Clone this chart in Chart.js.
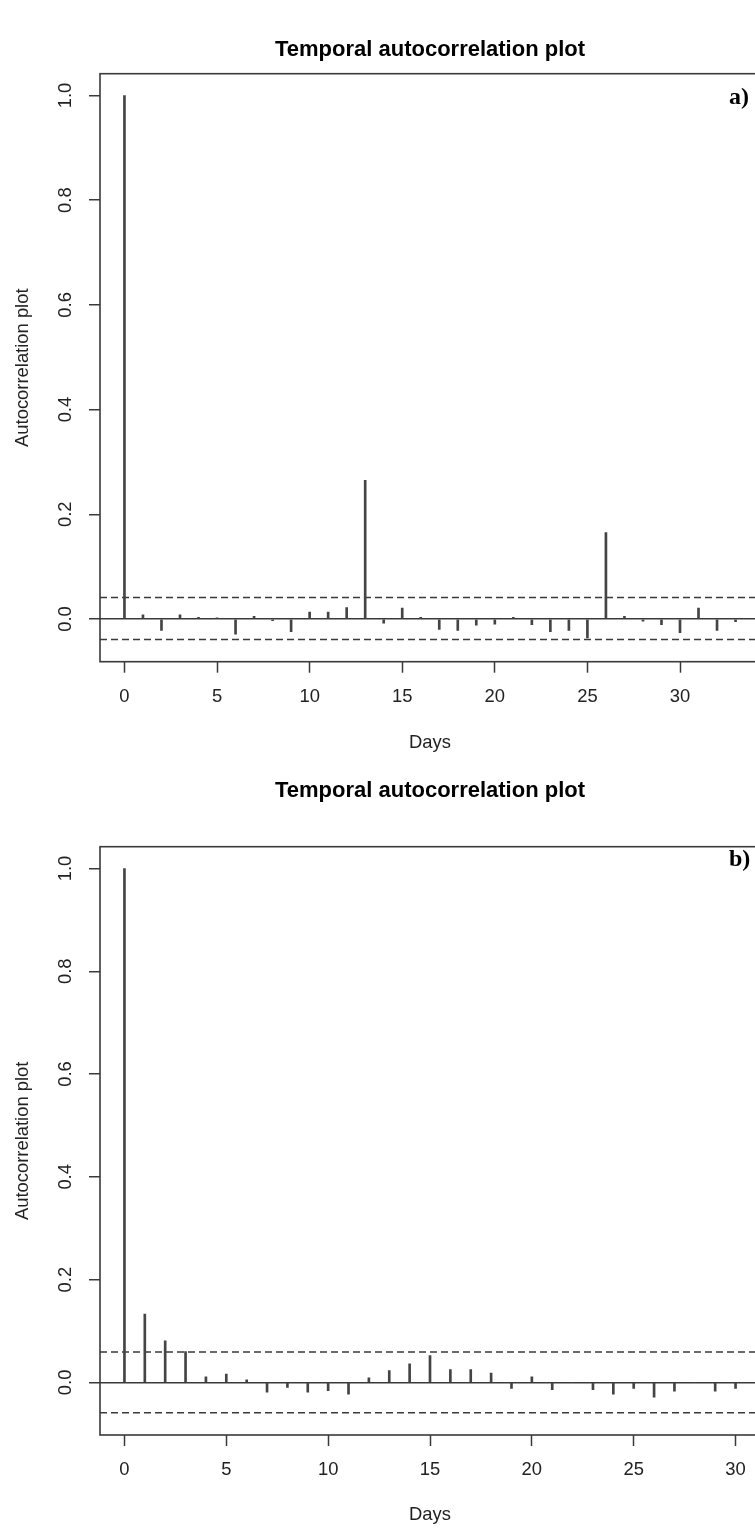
<!DOCTYPE html>
<html>
<head>
<meta charset="utf-8">
<script src="https://cdn.jsdelivr.net/npm/chart.js@4/dist/chart.umd.min.js"></script>
<style>
html,body{margin:0;padding:0;background:#fff;overflow:hidden;width:755px;height:1528px;}
.wrap{position:absolute;left:0;width:800px;}
canvas{display:block;}
.tag{position:absolute;font-family:"Liberation Serif","DejaVu Serif",serif;font-weight:bold;font-size:24px;color:#000;line-height:1;}
</style>
</head>
<body>
<div class="wrap" id="wa" style="top:0;height:764px;"><canvas id="ca" width="800" height="764"></canvas></div>
<div class="wrap" id="wb" style="top:764px;height:764px;"><canvas id="cb" width="800" height="764"></canvas></div>
<div class="tag" style="left:729px;top:84px;">a)</div>
<div class="tag" style="left:729px;top:846px;">b)</div>
<script>
// ---- data ----
const chartTitle = "Temporal autocorrelation plot";
const xTitle = "Days";
const yTitle = "Autocorrelation plot";
const xTicks = [0, 5, 10, 15, 20, 25, 30];
const yTicks = [0.0, 0.2, 0.4, 0.6, 0.8, 1.0];

const lagsA = [0,1,2,3,4,5,6,7,8,9,10,11,12,13,14,15,16,17,18,19,20,21,22,23,24,25,26,27,28,29,30,31,32,33];
const acfA  = [1.0,0.008,-0.022,0.008,0.003,0.002,-0.029,0.005,-0.003,-0.024,0.013,0.013,0.022,0.265,
               -0.008,0.021,0.003,-0.020,-0.022,-0.012,-0.010,0.003,-0.011,-0.024,-0.022,-0.036,0.165,
               0.005,-0.004,-0.011,-0.026,0.021,-0.022,-0.005];
const climA = [0.041, -0.039];
const xRangeA = [-1.32, 34.32];
const yRangeA = [-0.0816, 1.0416];

const lagsB = [0,1,2,3,4,5,6,7,8,9,10,11,12,13,14,15,16,17,18,19,20,21,22,23,24,25,26,27,28,29,30];
const acfB  = [1.0,0.133,0.081,0.060,0.011,0.016,0.005,-0.019,-0.010,-0.019,-0.016,-0.023,0.009,
               0.023,0.036,0.052,0.025,0.025,0.018,-0.012,0.011,-0.014,0.0,-0.014,-0.023,-0.012,
               -0.029,-0.017,0.0,-0.017,-0.012];
const climB = [0.059, -0.059];
const xRangeB = [-1.2, 31.2];
const yRangeB = [-0.1024, 1.0424];

// ---- styles ----
const FONT = '"Liberation Sans", Arial, sans-serif';
const INK = '#3a3a3a';
const TXT = '#222';

const boxPlugin = {
  id: 'box',
  afterDraw(chart) {
    const {ctx, chartArea: a} = chart;
    ctx.save();
    ctx.strokeStyle = INK;
    ctx.lineWidth = 1.6;
    ctx.strokeRect(a.left, a.top, a.right - a.left, a.bottom - a.top);
    ctx.restore();
  }
};

function makeChart(id, lags, acf, clim, xr, yr, geom) {
  const ctx = document.getElementById(id).getContext('2d');
  const bars = lags.map((l, i) => ({x: l, y: acf[i]}));
  const dashU = [{x: xr[0], y: clim[0]}, {x: xr[1], y: clim[0]}];
  const dashL = [{x: xr[0], y: clim[1]}, {x: xr[1], y: clim[1]}];
  return new Chart(ctx, {
    type: 'bar',
    data: {
      datasets: [
        {type: 'bar', data: bars, backgroundColor: '#444', borderWidth: 0, barThickness: 2, grouped: false},
        {type: 'line', data: dashU, borderColor: INK, borderWidth: 1.5, borderDash: [7, 4], pointRadius: 0, fill: false},
        {type: 'line', data: dashL, borderColor: INK, borderWidth: 1.5, borderDash: [7, 4], pointRadius: 0, fill: false}
      ]
    },
    options: {
      responsive: false,
      animation: false,
      devicePixelRatio: 1,
      layout: {padding: {left: 0, right: 40, top: 0, bottom: 0}},
      plugins: {
        legend: {display: false},
        tooltip: {enabled: false},
        title: {
          display: true, text: chartTitle, fullSize: false, color: '#000',
          font: {family: FONT, size: 22, weight: 'bold', lineHeight: 1.2},
          padding: {top: geom.titleTop, bottom: geom.titleBottom}
        }
      },
      scales: {
        x: {
          type: 'linear', min: xr[0], max: xr[1], offset: false,
          afterBuildTicks: s => { s.ticks = xTicks.map(v => ({value: v})); },
          afterFit: s => { s.height = geom.xAxisH; },
          ticks: {color: TXT, font: {family: FONT, size: 18.4}, padding: 13, maxRotation: 0, autoSkip: false,
                  callback: v => String(v)},
          grid: {offset: false, drawOnChartArea: false, drawTicks: true, tickLength: 11, tickColor: INK, tickWidth: 1.5},
          border: {display: false},
          title: {display: true, text: xTitle, color: TXT, font: {family: FONT, size: 18.4, lineHeight: 1.2},
                  padding: {top: 0, bottom: geom.daysPad}}
        },
        y: {
          type: 'linear', min: yr[0], max: yr[1],
          afterBuildTicks: s => { s.ticks = yTicks.map(v => ({value: v})); },
          afterFit: s => { s.width = 100; },
          ticks: {color: TXT, font: {family: FONT, size: 18.4}, padding: 10, minRotation: 90, maxRotation: 90,
                  crossAlign: 'center', autoSkip: false, callback: v => Number(v).toFixed(1)},
          grid: {
            offset: false,
            drawOnChartArea: true, drawTicks: true, tickLength: 11, tickColor: INK, tickWidth: 1.5,
            lineWidth: 1.5,
            color: c => (c.tick && Math.abs(c.tick.value) < 1e-9) ? INK : 'rgba(0,0,0,0)'
          },
          border: {display: false},
          title: {display: true, text: yTitle, color: TXT, font: {family: FONT, size: 18.4, lineHeight: 1.2},
                  padding: {top: 12, bottom: 0}}
        }
      }
    },
    plugins: [boxPlugin]
  });
}

// Panel a: box top 73.7, bottom 661.7 in a 764-high canvas
makeChart('ca', lagsA, acfA, climA, xRangeA, yRangeA,
  {titleTop: 37, titleBottom: 10.3, xAxisH: 764 - 661.7, daysPad: 10});
// Panel b: box top 82.7, bottom 671 in its own 764-high canvas (starts at page y 764)
makeChart('cb', lagsB, acfB, climB, xRangeB, yRangeB,
  {titleTop: 14, titleBottom: 42.3, xAxisH: 764 - 671, daysPad: 2});
</script>
</body>
</html>
